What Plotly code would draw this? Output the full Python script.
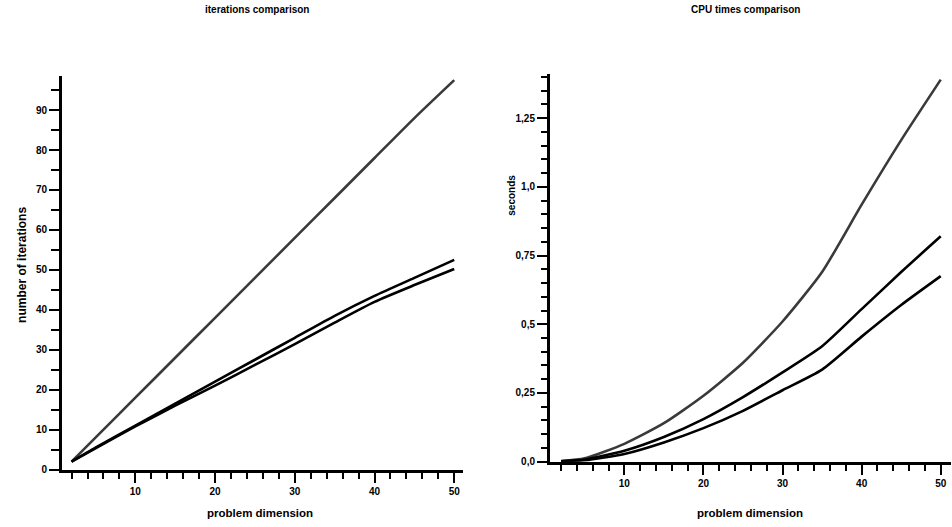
import plotly.graph_objects as go

# ---- data ----
dimension = [2, 5, 10, 15, 20, 25, 30, 35, 40, 45, 50]

iter_top = [2, 8, 18, 28, 38, 48, 58, 68, 78, 88, 97.5]
iter_mid = [2, 5.5, 11, 16.5, 22, 27.5, 33, 38.5, 43.5, 48, 52.5]
iter_low = [2, 5.3, 10.8, 16, 21, 26.2, 31.4, 36.8, 42, 46.2, 50.2]

cpu_top = [0.002, 0.012, 0.065, 0.14, 0.24, 0.36, 0.51, 0.69, 0.935, 1.17, 1.39]
cpu_mid = [0.001, 0.008, 0.04, 0.09, 0.155, 0.235, 0.325, 0.42, 0.555, 0.69, 0.82]
cpu_low = [0.001, 0.005, 0.028, 0.07, 0.122, 0.185, 0.26, 0.335, 0.455, 0.57, 0.675]

x_tickvals = [10, 20, 30, 40, 50]
iter_tickvals = [0, 10, 20, 30, 40, 50, 60, 70, 80, 90]
cpu_tickvals = [0, 0.25, 0.5, 0.75, 1.0, 1.25]
cpu_ticktext = ["0,0", "0,25", "0,5", "0,75", "1,0", "1,25"]

W, H = 952, 527
FONT = "Liberation Sans, Arial, Helvetica, sans-serif"


def px_x(p):
    return p / W


def px_y(p):
    return 1 - p / H


fig = go.Figure()
for ys, c in [(iter_top, "#3a3a3a"), (iter_mid, "black"), (iter_low, "black")]:
    fig.add_trace(go.Scatter(x=dimension, y=ys, mode="lines",
                             line=dict(color=c, width=2.6, shape="spline",
                                       smoothing=0.6),
                             xaxis="x", yaxis="y", showlegend=False))
for ys, c in [(cpu_top, "#3a3a3a"), (cpu_mid, "black"), (cpu_low, "black")]:
    fig.add_trace(go.Scatter(x=dimension, y=ys, mode="lines",
                             line=dict(color=c, width=2.6, shape="spline",
                                       smoothing=0.6),
                             xaxis="x2", yaxis="y2", showlegend=False))

tickfont = dict(family=FONT, size=10, color="black", weight="bold")
xcommon = dict(showgrid=False, zeroline=False, showline=True, linecolor="black",
               linewidth=3, ticks="outside", ticklen=10, tickwidth=2,
               tickcolor="black", tickvals=x_tickvals, tickfont=tickfont,
               minor=dict(ticks="outside", ticklen=6, tickwidth=2,
                          tickcolor="black", dtick=2, tick0=0))
ycommon = dict(showgrid=False, zeroline=False, showline=True, linecolor="black",
               linewidth=3, ticks="outside", ticklen=10, tickwidth=1.5,
               tickcolor="black", tickfont=tickfont)

fig.update_layout(
    width=W, height=H,
    margin=dict(l=0, r=0, t=0, b=0),
    paper_bgcolor="white", plot_bgcolor="white",
    showlegend=False,
    xaxis=dict(**xcommon, domain=[px_x(62), px_x(463)], range=[0.8, 51.1],
               anchor="y"),
    yaxis=dict(**ycommon, domain=[px_y(475), px_y(77)], range=[0, 98.5],
               tickvals=iter_tickvals, anchor="x",
               minor=dict(ticks="outside", ticklen=8, tickwidth=2,
                          tickcolor="black", dtick=5, tick0=0)),
    xaxis2=dict(**xcommon, domain=[px_x(550), px_x(951)], range=[0.6, 51.3],
                anchor="y2"),
    yaxis2=dict(**ycommon, domain=[px_y(467), px_y(75)], range=[0, 1.41],
                tickvals=cpu_tickvals, ticktext=cpu_ticktext, anchor="x2",
                minor=dict(ticks="outside", ticklen=6, tickwidth=2,
                           tickcolor="black", dtick=0.05, tick0=0)),
)


def note(text, x, y, size=10, angle=0):
    fig.add_annotation(text=text, x=px_x(x), y=px_y(y), xref="paper",
                       yref="paper", xanchor="center", yanchor="middle",
                       showarrow=False, textangle=angle,
                       font=dict(family=FONT, size=size, color="black",
                                 weight="bold"))


note("iterations comparison", 257, 10)
note("CPU times comparison", 745, 10)
note("problem dimension", 260, 519, size=11.5)
note("problem dimension", 750, 519, size=11.5)
note("number of iterations", 22, 268, size=12, angle=-90)
note("seconds", 512, 198, size=10, angle=-90)

# remove the page's default body margin so the figure fills the window exactly
fig.write_html("out.html",
               config={"displayModeBar": False},
               post_script="document.body.style.margin='0';"
                           "document.body.style.overflow='hidden';")
